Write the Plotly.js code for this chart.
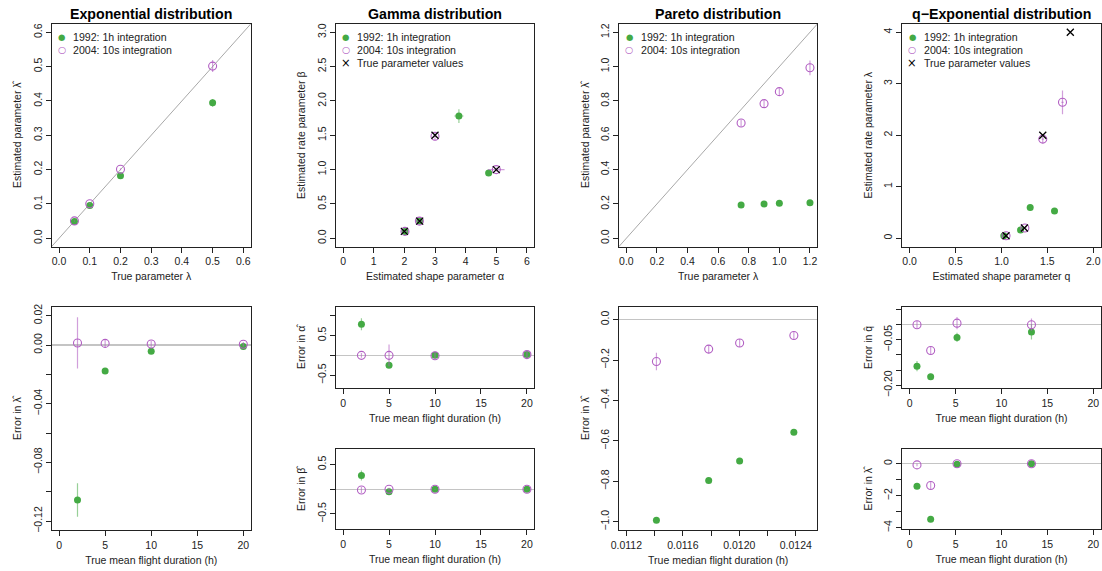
<!DOCTYPE html>
<html><head><meta charset="utf-8">
<script src="https://cdn.plot.ly/plotly-3.0.1.min.js"></script>
<style>html,body{margin:0;padding:0;background:#fff}#chart{width:1102px;height:571px}</style>
</head><body><div id="chart"></div>
<script>
// ---------------- Exponential ----------------
const expTrue = [0.05, 0.1, 0.2, 0.5];
const expMeanDur = [20, 10, 5, 2];
const exp1992Est = [0.0489, 0.0957, 0.1823, 0.3943];
const exp1992Err = [0.0008, 0.001, 0.0015, 0.0114];
const exp2004Est = [0.0505, 0.1007, 0.2011, 0.5014];
const exp2004Err = [0.0015, 0.002, 0.003, 0.0175];

// ---------------- Gamma ----------------
const gamTrueShape = [2, 2.5, 3, 5];
const gamTrueRate = [0.1, 0.25, 1.5, 1.0];
const gamMeanDur = [20, 10, 2, 5];
const gam1992Shape = [2.02, 2.5, 3.78, 4.75];
const gam1992ShapeErr = [0.04, 0.05, 0.15, 0.05];
const gam1992Rate = [0.1, 0.25, 1.78, 0.95];
const gam1992RateErr = [0.005, 0.01, 0.1, 0.03];
const gam2004Shape = [2.02, 2.49, 3.0, 5.0];
const gam2004ShapeErr = [0.08, 0.1, 0.06, 0.27];
const gam2004Rate = [0.1, 0.25, 1.486, 1.0];
const gam2004RateErr = [0.005, 0.01, 0.06, 0.03];

// ---------------- Pareto ----------------
const parTrue = [0.75, 0.9, 1.0, 1.2];
const parMedDur = [0.012386, 0.012002, 0.011783, 0.011413];
const par1992Est = [0.193, 0.200, 0.204, 0.207];
const par1992Err = [0.004, 0.004, 0.004, 0.005];
const par2004Est = [0.671, 0.784, 0.854, 0.993];
const par2004Err = [0.02, 0.02, 0.02, 0.043];

// ---------------- q-Exponential ----------------
const qTrueShape = [1.05, 1.25, 1.45, 1.75];
const qTrueRate = [0.05, 0.2, 2.0, 4.0];
const qMeanDur = [13.27, 5.16, 0.80, 2.29];
const q1992Shape = [1.026, 1.208, 1.313, 1.578];
const q1992ShapeErr = [0.025, 0.015, 0.017, 0.01];
const q1992Rate = [0.05, 0.162, 0.595, 0.531];
const q1992RateErr = [0.01, 0.02, 0.03, 0.03];
const q2004Shape = [1.05, 1.255, 1.45, 1.665];
const q2004ShapeErr = [0.02, 0.02, 0.012, 0.012];
const q2004Rate = [0.05, 0.2, 1.925, 2.64];
const q2004RateErr = [0.01, 0.02, 0.08, 0.23];

// reference (identity) line extents
const identityLine = [-10, 10];

// labels
const titles = ["Exponential distribution", "Gamma distribution", "Pareto distribution", "q\u2212Exponential distribution"];
const lbl1992 = "1992: 1h integration";
const lbl2004 = "2004: 10s integration";
const lblTrue = "True parameter values";

// ---------------- styling helpers ----------------
const W = 1102, H = 571;
const GREEN = '#44aa44', PURPLE = '#b25fc3';
const GREEN_ERR = 'rgba(68,170,68,0.55)', PURPLE_ERR = 'rgba(178,95,195,0.6)';
const FONT = 'Liberation Sans, Arial, sans-serif';
const diff = (a, b) => a.map((v, i) => v - b[i]);

function errArr(arr, color) {
  return {type: 'data', array: arr, visible: true, color: color, thickness: 1.2, width: 0};
}
function green(x, y, ax, ey, ex) {
  const t = {x: x, y: y, xaxis: 'x' + ax, yaxis: 'y' + ax, mode: 'markers', type: 'scatter', showlegend: false,
    name: lbl1992, marker: {color: GREEN, size: 7, symbol: 'circle'}};
  if (ey) t.error_y = errArr(ey, GREEN_ERR);
  if (ex) t.error_x = errArr(ex, GREEN_ERR);
  return t;
}
function purple(x, y, ax, ey, ex) {
  const t = {x: x, y: y, xaxis: 'x' + ax, yaxis: 'y' + ax, mode: 'markers', type: 'scatter', showlegend: false,
    name: lbl2004, marker: {color: PURPLE, size: 8, symbol: 'circle-open', line: {width: 1.1}}};
  if (ey) t.error_y = errArr(ey, PURPLE_ERR);
  if (ex) t.error_x = errArr(ex, PURPLE_ERR);
  return t;
}
function trueX(x, y, ax) {
  return {x: x, y: y, xaxis: 'x' + ax, yaxis: 'y' + ax, mode: 'markers', type: 'scatter', showlegend: false,
    name: lblTrue, marker: {color: '#000', size: 7, symbol: 'x-thin-open', line: {width: 1.3, color: '#000'}}};
}
function identity(ax) {
  return {x: identityLine, y: identityLine, xaxis: 'x' + ax, yaxis: 'y' + ax, mode: 'lines', type: 'scatter',
    showlegend: false, hoverinfo: 'skip', line: {color: '#a8a8a8', width: 1}};
}

const traces = [
  identity(1),
  green(expTrue, exp1992Est, 1, exp1992Err),
  purple(expTrue, exp2004Est, 1, exp2004Err),

  green(gam1992Shape, gam1992Rate, 2, gam1992RateErr, gam1992ShapeErr),
  purple(gam2004Shape, gam2004Rate, 2, gam2004RateErr, gam2004ShapeErr),
  trueX(gamTrueShape, gamTrueRate, 2),

  identity(3),
  green(parTrue, par1992Est, 3, par1992Err),
  purple(parTrue, par2004Est, 3, par2004Err),

  green(q1992Shape, q1992Rate, 4, q1992RateErr, q1992ShapeErr),
  purple(q2004Shape, q2004Rate, 4, q2004RateErr, q2004ShapeErr),
  trueX(qTrueShape, qTrueRate, 4),

  green(expMeanDur, diff(exp1992Est, expTrue), 5, exp1992Err),
  purple(expMeanDur, diff(exp2004Est, expTrue), 5, exp2004Err),

  green(gamMeanDur, diff(gam1992Shape, gamTrueShape), 6, gam1992ShapeErr),
  purple(gamMeanDur, diff(gam2004Shape, gamTrueShape), 6, gam2004ShapeErr),
  green(gamMeanDur, diff(gam1992Rate, gamTrueRate), 7, gam1992RateErr),
  purple(gamMeanDur, diff(gam2004Rate, gamTrueRate), 7, gam2004RateErr),

  green(parMedDur, diff(par1992Est, parTrue), 8, par1992Err),
  purple(parMedDur, diff(par2004Est, parTrue), 8, par2004Err),

  green(qMeanDur, diff(q1992Shape, qTrueShape), 9, q1992ShapeErr),
  purple(qMeanDur, diff(q2004Shape, qTrueShape), 9, q2004ShapeErr),
  green(qMeanDur, diff(q1992Rate, qTrueRate), 10, q1992RateErr),
  purple(qMeanDur, diff(q2004Rate, qTrueRate), 10, q2004RateErr)
];

// ---------------- layout ----------------
const colX = [[51.7, 250.7], [335.7, 534.3], [619, 817.3], [902.3, 1100.6]];
const rowTop = [24, 246.5], rowTall = [307.3, 530], rowA = [306.5, 388.3], rowB = [449.3, 529.3];
const dx = c => [c[0] / W, c[1] / W];
const dy = r => [1 - r[1] / H, 1 - r[0] / H];

function axis(n, domain, range, tickvals, ticktext, title, isY, zero) {
  const a = {
    anchor: (isY ? 'x' : 'y') + (n === 1 ? '' : n),
    domain: domain, range: range, autorange: false, fixedrange: true,
    showline: true, mirror: true, linecolor: '#222', linewidth: 1,
    showgrid: false, zeroline: !!zero, zerolinecolor: '#c4c4c4', zerolinewidth: 1.5,
    ticks: 'outside', ticklen: 5, tickcolor: '#222', tickwidth: 1,
    tickmode: 'array', tickvals: tickvals, ticktext: ticktext,
    tickfont: {family: FONT, size: 10.5, color: '#222'},
    title: {text: title, font: {family: FONT, size: 10.5, color: '#222'}, standoff: isY ? 7 : 6.5}
  };
  if (isY) a.tickangle = -90;
  return a;
}
const M = '\u2212';
const durTicks = [0, 5, 10, 15, 20], durText = ['0', '5', '10', '15', '20'];
const durTitle = 'True mean flight duration (h)';

const layout = {
  width: W, height: H, margin: {l: 0, r: 0, t: 0, b: 0},
  paper_bgcolor: '#fff', plot_bgcolor: '#fff', showlegend: false,
  font: {family: FONT, size: 10.5, color: '#222'},

  xaxis: axis(1, dx(colX[0]), [-0.024, 0.624], [0, 0.1, 0.2, 0.3, 0.4, 0.5, 0.6], ['0.0', '0.1', '0.2', '0.3', '0.4', '0.5', '0.6'], 'True parameter \u03bb', false),
  yaxis: axis(1, dy(rowTop), [-0.024, 0.624], [0, 0.1, 0.2, 0.3, 0.4, 0.5, 0.6], ['0.0', '0.1', '0.2', '0.3', '0.4', '0.5', '0.6'], 'Estimated parameter \u03bb\u0302', true),

  xaxis2: axis(2, dx(colX[1]), [-0.24, 6.24], [0, 1, 2, 3, 4, 5, 6], ['0', '1', '2', '3', '4', '5', '6'], 'Estimated shape parameter \u03b1', false),
  yaxis2: axis(2, dy(rowTop), [-0.12, 3.12], [0, 0.5, 1, 1.5, 2, 2.5, 3], ['0.0', '0.5', '1.0', '1.5', '2.0', '2.5', '3.0'], 'Estimated rate parameter \u03b2', true),

  xaxis3: axis(3, dx(colX[2]), [-0.048, 1.248], [0, 0.2, 0.4, 0.6, 0.8, 1.0, 1.2], ['0.0', '0.2', '0.4', '0.6', '0.8', '1.0', '1.2'], 'True parameter \u03bb', false),
  yaxis3: axis(3, dy(rowTop), [-0.048, 1.248], [0, 0.2, 0.4, 0.6, 0.8, 1.0, 1.2], ['0.0', '0.2', '0.4', '0.6', '0.8', '1.0', '1.2'], 'Estimated parameter \u03bb\u0302', true),

  xaxis4: axis(4, dx(colX[3]), [-0.08, 2.08], [0, 0.5, 1, 1.5, 2], ['0.0', '0.5', '1.0', '1.5', '2.0'], 'Estimated shape parameter q', false),
  yaxis4: axis(4, dy(rowTop), [-0.16, 4.16], [0, 1, 2, 3, 4], ['0', '1', '2', '3', '4'], 'Estimated rate parameter \u03bb', true),

  xaxis5: axis(5, dx(colX[0]), [-0.8, 20.8], durTicks, durText, durTitle, false),
  yaxis5: axis(5, dy(rowTall), [-0.1261, 0.0257], [0.02, 0, -0.02, -0.04, -0.06, -0.08, -0.1, -0.12], ['0.02', '0.00', '', M + '0.04', '', M + '0.08', '', M + '0.12'], 'Error in \u03bb\u0302', true, true),

  xaxis6: axis(6, dx(colX[1]), [-0.8, 20.8], durTicks, durText, durTitle, false),
  yaxis6: axis(6, dy(rowA), [-0.826, 1.226], [-0.5, 0, 0.5, 1], [M + '0.5', '', '0.5', ''], 'Error in \u03b1\u0302', true, true),

  xaxis7: axis(7, dx(colX[1]), [-0.8, 20.8], durTicks, durText, durTitle, false),
  yaxis7: axis(7, dy(rowB), [-0.81, 0.81], [-0.5, 0, 0.5], [M + '0.5', '', '0.5'], 'Error in \u03b2\u0302', true, true),

  xaxis8: axis(8, dx(colX[2]), [0.011148, 0.012552], [0.0112, 0.0114, 0.0116, 0.0118, 0.0120, 0.0122, 0.0124], ['0.0112', '', '0.0116', '', '0.0120', '', '0.0124'], 'True median flight duration (h)', false),
  yaxis8: axis(8, dy(rowTall), [-1.0408, 0.0608], [0, -0.2, -0.4, -0.6, -0.8, -1.0], ['0.0', M + '0.2', M + '0.4', M + '0.6', M + '0.8', M + '1.0'], 'Error in \u03bb\u0302', true, true),

  xaxis9: axis(9, dx(colX[3]), [-0.8, 20.8], durTicks, durText, durTitle, false),
  yaxis9: axis(9, dy(rowA), [-0.21, 0.06], [0.05, 0, -0.05, -0.1, -0.15, -0.2], ['', '', M + '0.05', '', '', M + '0.20'], 'Error in q\u0302', true, true),

  xaxis10: axis(10, dx(colX[3]), [-0.8, 20.8], durTicks, durText, durTitle, false),
  yaxis10: axis(10, dy(rowB), [-4.1, 0.9], [0, -1, -2, -3, -4], ['0', '', M + '2', '', M + '4'], 'Error in \u03bb\u0302', true, true),

  annotations: []
};

// panel titles
titles.forEach((t, i) => {
  layout.annotations.push({
    text: '<b>' + t + '</b>', xref: 'paper', yref: 'paper',
    x: (colX[i][0] + colX[i][1]) / 2 / W, y: 1 - 14.3 / H, xanchor: 'center', yanchor: 'middle',
    showarrow: false, font: {family: FONT, size: 14.2, color: '#000'}
  });
});

// in-panel legends (one row per entry: symbol + label)
const legendRows = [
  {sym: '\u25cf', color: GREEN, size: 8.5, label: lbl1992},
  {sym: '\u25cb', color: PURPLE, size: 9.5, label: lbl2004},
  {sym: '\u00d7', color: '#000', size: 11.5, label: lblTrue}
];
const legendRowY = [36.7, 50.0, 63.3];
[0, 1, 2, 3].forEach(i => {
  const nRows = (i === 1 || i === 3) ? 3 : 2;
  for (let r = 0; r < nRows; r++) {
    const row = legendRows[r];
    layout.annotations.push({
      text: row.sym, xref: 'paper', yref: 'paper', x: (colX[i][0] + 10) / W, y: 1 - legendRowY[r] / H,
      xanchor: 'center', yanchor: 'middle', showarrow: false,
      font: {family: 'DejaVu Sans, sans-serif', size: row.size, color: row.color}
    });
    layout.annotations.push({
      text: row.label, xref: 'paper', yref: 'paper', x: (colX[i][0] + 19.5) / W, y: 1 - legendRowY[r] / H,
      xanchor: 'left', yanchor: 'middle', showarrow: false,
      font: {family: FONT, size: 10.6, color: '#222'}
    });
  }
});

Plotly.newPlot('chart', traces, layout, {displayModeBar: false, staticPlot: true});
</script></body></html>
